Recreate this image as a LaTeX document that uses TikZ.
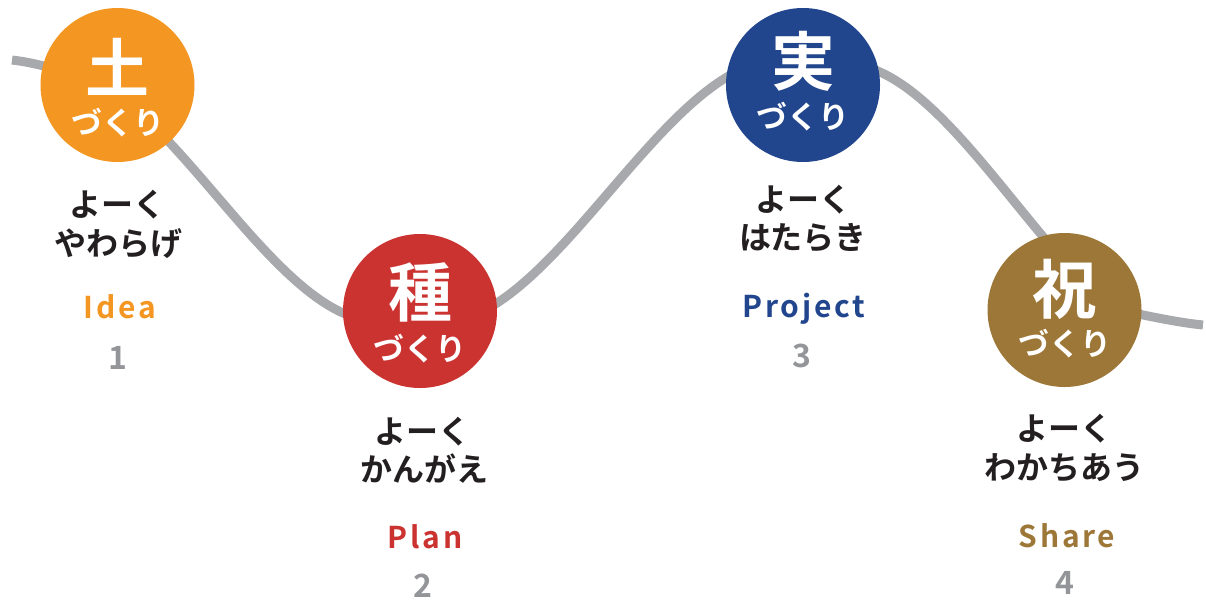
\documentclass[tikz,border=0pt]{standalone}
\usepackage{fontspec}
\newfontfamily\jpb{Noto Sans CJK JP Bold}
\newfontfamily\latb{Noto Sans CJK JP Bold}[LetterSpace=9]
\definecolor{cOrange}{HTML}{F49622}
\definecolor{cRed}{HTML}{CB3331}
\definecolor{cBlue}{HTML}{22468E}
\definecolor{cBrown}{HTML}{9D7738}
\definecolor{cGray}{HTML}{939598}
\definecolor{cWave}{HTML}{A7A9AC}
\definecolor{cText}{HTML}{231F20}
\tikzset{
  stage/.style={circle, minimum size=154pt, inner sep=0pt, fill=#1},
  kanji/.style={text=white, font=\jpb\fontsize{64}{64}\selectfont, inner sep=0pt},
  zukuri/.style={text=white, font=\jpb\fontsize{31}{31}\selectfont, inner sep=0pt},
  motto/.style={text=cText, font=\jpb\fontsize{32}{32}\selectfont, inner sep=0pt},
  eng/.style={text=#1, font=\latb\fontsize{30}{30}\selectfont, inner sep=0pt, anchor=base},
  num/.style={text=cGray, font=\jpb\fontsize{32}{32}\selectfont, inner sep=0pt, anchor=base},
  wave/.style={draw=cWave, line width=9pt}
}
\begin{document}
\begin{tikzpicture}[x=1pt,y=-1pt]
\useasboundingbox (0,0) rectangle (1206,603);
% wave
\coordinate (w0) at (12,60);
\coordinate (w1) at (170,143);
\coordinate (w2) at (343,313);
\coordinate (w3) at (497,303);
\coordinate (w4) at (727,77);
\coordinate (w5) at (880,72);
\coordinate (w6) at (1040,233);
\coordinate (w7) at (1143,315);
\coordinate (w8) at (1203,325);
\draw[wave] (w0)
  .. controls (64.7,66.3) and (117.3,90.3) .. (w1)
  .. controls (227.7,204.7) and (285.3,287) .. (w2)
  .. controls (394.3,336.1) and (445.7,336.3) .. (w3)
  .. controls (573.7,253.2) and (650.3,123) .. (w4)
  .. controls (778,46.4) and (829,49) .. (w5)
  .. controls (933.3,96) and (986.7,169) .. (w6)
  .. controls (1074.3,274.2) and (1108.7,308.1) .. (w7)
  .. controls (1163,319) and (1183,323) .. (w8);
% circles
\node[stage=cOrange] (c1) at (117.5,85) {};
\node[stage=cRed]    (c2) at (420,311) {};
\node[stage=cBlue]   (c3) at (803,85) {};
\node[stage=cBrown]  (c4) at (1064.5,310) {};
% circle texts
\node[kanji]  (k1) at (117.5,66.5) {土};
\node[zukuri] (z1) at (117.5,123) {づくり};
\node[kanji]  (k2) at (420,292.5) {種};
\node[zukuri] (z2) at (420,349) {づくり};
\node[kanji]  (k3) at (803,61) {実};
\node[zukuri] (z3) at (803,116.5) {づくり};
\node[kanji]  (k4) at (1064.5,289) {祝};
\node[zukuri] (z4) at (1064.5,344) {づくり};
% motto
\node[motto] (m1a) at (117.5,205) {よーく};
\node[motto] (m1b) at (118.5,243.5) {やわらげ};
\node[motto] (m2a) at (422,431.5) {よーく};
\node[motto] (m2b) at (424,469) {かんがえ};
\node[motto] (m3a) at (803,199.5) {よーく};
\node[motto] (m3b) at (803,237.5) {はたらき};
\node[motto] (m4a) at (1064.5,428.5) {よーく};
\node[motto] (m4b) at (1064.5,467.5) {わかちあう};
% english
\node[eng=cOrange] (e1) at (120,318) {Idea};
\node[eng=cRed]    (e2) at (425,548) {Plan};
\node[eng=cBlue]   (e3) at (804,317) {Project};
\node[eng=cBrown]  (e4) at (1067,547) {Share};
% numbers
\node[num] (n1) at (117.5,369) {1};
\node[num] (n2) at (422.5,597) {2};
\node[num] (n3) at (802,367) {3};
\node[num] (n4) at (1064.5,594) {4};
\end{tikzpicture}
\end{document}
